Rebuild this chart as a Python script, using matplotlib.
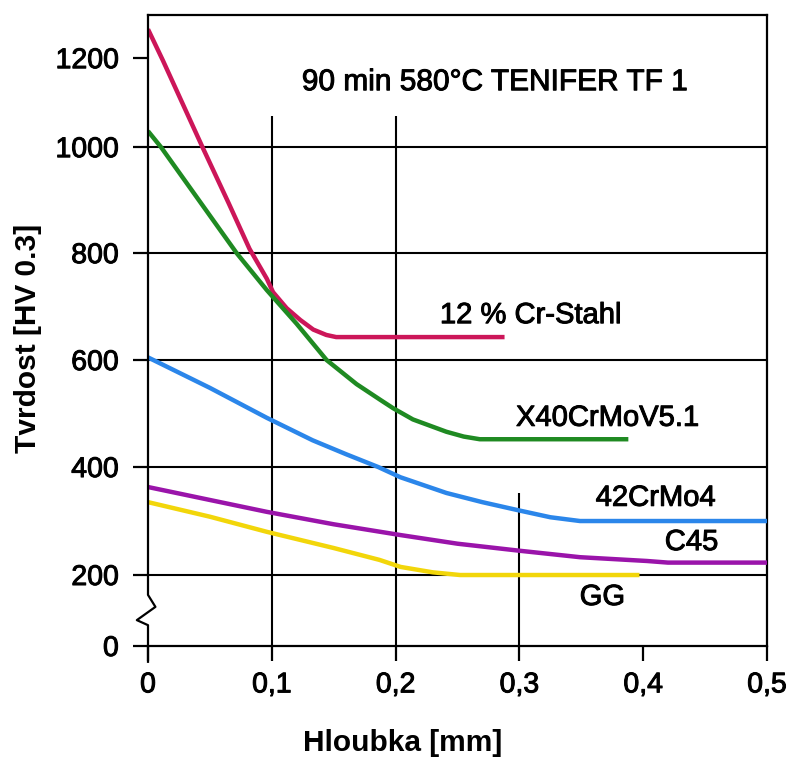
import numpy as np
import matplotlib
matplotlib.use("Agg")
import matplotlib.pyplot as plt
from matplotlib.lines import Line2D
import matplotlib.patheffects as pe

plt.rcParams['font.family'] = ['Liberation Sans', 'DejaVu Sans']

# ---------------- data ----------------
x_cr = [0, 0.012, 0.044, 0.065, 0.082, 0.096, 0.101, 0.112, 0.123, 0.1335, 0.144, 0.152, 0.288]
y_cr = [1265, 1195, 1000, 895, 808, 752, 727, 697, 675, 657, 647, 643, 643]

x_x40 = [0, 0.0105, 0.0716, 0.0959, 0.120, 0.1443, 0.1685, 0.1874, 0.198, 0.214, 0.241, 0.255, 0.268, 0.388]
y_x40 = [1036, 1000, 800, 731, 668, 600, 555, 526, 510, 489, 466, 457, 452, 452]

x_42 = [0, 0.05, 0.096, 0.133, 0.16, 0.186, 0.204, 0.241, 0.27, 0.299, 0.325, 0.349, 0.5]
y_42 = [605, 548, 492, 450, 424, 400, 381, 352, 335, 320, 307, 300, 300]

x_c45 = [0, 0.05, 0.096, 0.15, 0.204, 0.25, 0.3, 0.349, 0.403, 0.42, 0.5]
y_c45 = [363, 339, 317, 294, 274, 258, 245, 233, 226, 223, 223]

x_gg = [0, 0.05, 0.096, 0.15, 0.187, 0.204, 0.23, 0.252, 0.397]
y_gg = [335, 308, 280, 250, 228, 215, 205, 200, 200]

series_names = ['12 % Cr-Stahl', 'X40CrMoV5.1', '42CrMo4', 'C45', 'GG']
title_text = '90 min 580°C TENIFER TF 1'

x_ticks = [0, 0.1, 0.2, 0.3, 0.4, 0.5]
x_tick_labels = ['0', '0,1', '0,2', '0,3', '0,4', '0,5']
y_ticks = [0, 200, 400, 600, 800, 1000, 1200]
y_tick_labels = ['0', '200', '400', '600', '800', '1000', '1200']

# ---------------- broken / non-uniform y scale ----------------
_vals = np.array([0, 200, 400, 600, 800, 1000, 1200], float)
_pos = np.array([0, 71, 179, 286, 393, 499, 588], float)

def _pw(v, a, b):
    v = np.asarray(v, float)
    out = np.interp(v, a, b)
    hi = v > a[-1]
    lo = v < a[0]
    out = np.where(hi, b[-1] + (v - a[-1]) * (b[-1] - b[-2]) / (a[-1] - a[-2]), out)
    out = np.where(lo, b[0] + (v - a[0]) * (b[1] - b[0]) / (a[1] - a[0]), out)
    return out

def fwd(v):
    return _pw(v, _vals, _pos)

def inv(p):
    return _pw(p, _pos, _vals)

# ---------------- figure ----------------
fig = plt.figure(figsize=(7.87, 7.61), dpi=100)
ax = fig.add_axes([148/787, (761-646)/761, 619/787, 631/761])
ax.set_yscale('function', functions=(fwd, inv))
ax.set_xlim(0, 0.5)
ax.set_ylim(0, 1297)

# grid
for yv in [200, 400, 600, 800, 1000]:
    ax.axhline(yv, color='black', lw=1.5, zorder=1)
ax.vlines([0.1, 0.2], 0, 1070, color='black', lw=1.5, zorder=1)
ax.vlines([0.3], 0, 352, color='black', lw=1.5, zorder=1)

# curves
colors = ['#cc1659', '#1f8a22', '#2b86ea', '#9a14aa', '#f2d60a']
xs = [x_cr, x_x40, x_42, x_c45, x_gg]
ys = [y_cr, y_x40, y_42, y_c45, y_gg]
for xx, yy, c in zip(xs, ys, colors):
    ax.plot(xx, yy, color=c, lw=3.2, solid_capstyle='butt', solid_joinstyle='round', zorder=3)

# spines
for s in ['top', 'right', 'bottom']:
    ax.spines[s].set_linewidth(1.6)
ax.spines['left'].set_visible(False)
zig = Line2D([0, 0, 0.012, -0.018, 0, 0], [1, 0.081, 0.062, 0.041, 0.033, -0.025],
             transform=ax.transAxes, color='black', lw=1.6, clip_on=False, zorder=4)
ax.add_line(zig)

heavy = [pe.withStroke(linewidth=0.7, foreground='black')]

# ticks
ax.set_xticks(x_ticks)
ax.set_xticklabels(x_tick_labels)
ax.set_yticks(y_ticks)
ax.set_yticklabels(y_tick_labels)
ax.yaxis.set_minor_locator(matplotlib.ticker.NullLocator())
ax.tick_params(axis='both', direction='out', length=11, width=1.6, labelsize=20.5, pad=8)
ax.tick_params(axis='y', pad=10)
for lab in ax.get_xticklabels() + ax.get_yticklabels():
    lab.set_path_effects(heavy)

# labels
ax.set_ylabel('Tvrdost [HV 0.3]', fontsize=21.5, fontweight='bold')
ax.yaxis.set_label_coords(-0.171, 0.488)
ax.set_xlabel('Hloubka [mm]', fontsize=21.5, fontweight='bold')
ax.xaxis.set_label_coords(0.412, -0.131)

# annotations
ax.text(0.280, 1146, title_text, fontsize=21.5, ha='center', va='center', path_effects=heavy)
label_pos = [(0.309, 684), (0.371, 492), (0.410, 343), (0.439, 261), (0.367, 138)]
for name, (lx, ly) in zip(series_names, label_pos):
    ax.text(lx, ly, name, fontsize=21, ha='center', va='center', path_effects=heavy)

fig.savefig('out.png', dpi=100)
